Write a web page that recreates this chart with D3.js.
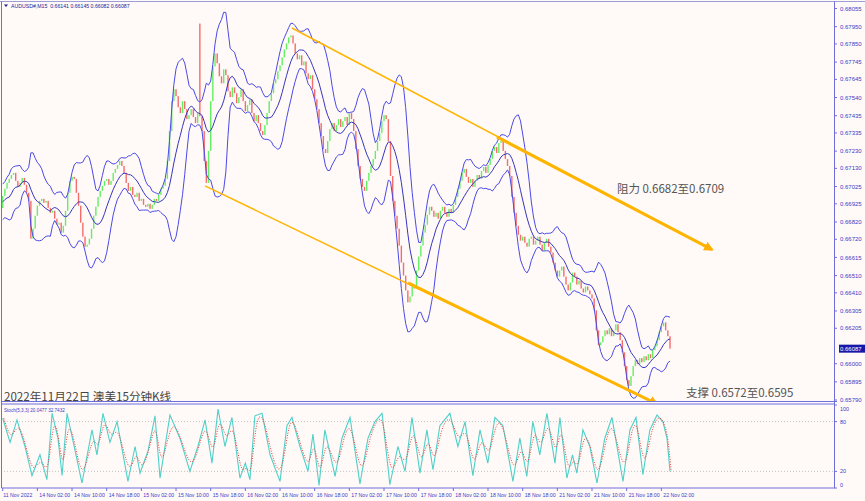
<!DOCTYPE html>
<html><head><meta charset="utf-8">
<script src="https://cdn.jsdelivr.net/npm/d3@7"></script>
<style>
html,body{margin:0;padding:0;background:#fffaf8;}
svg{display:block;}
</style></head><body>
<svg id="c" width="865" height="501"></svg>
<script>
// ---------------- DATA ----------------
const symbolLabel = "AUDUSD#,M15";
const lastQuote = ["0.66141", "0.66145", "0.66082", "0.66087"];
// closes of 30-minute steps
const warmupCloses = [0.66880,0.66950,0.67020,0.66900,0.66850,0.66930,0.67000,0.66960,0.66900];
const closes = [
0.66971,0.67012,0.67046,0.67069,0.67092,0.67104,0.67058,0.67023,0.67046,0.67075,
0.67035,0.66989,0.66942,0.66723,0.66781,0.66856,0.66914,0.66942,0.66954,0.66931,
0.66942,0.66902,0.66873,0.66885,0.66839,0.66804,0.66816,0.66758,0.66798,0.66885,
0.66989,0.67058,0.67081,0.67069,0.66989,0.66914,0.66816,0.66735,0.66677,0.66689,
0.66723,0.66781,0.66856,0.66908,0.66965,0.67000,0.67029,0.67058,0.67069,0.67035,
0.67058,0.67104,0.67127,0.67150,0.67173,0.67144,0.67104,0.67046,0.67000,0.67023,
0.66977,0.66965,0.66989,0.66942,0.66954,0.66919,0.66908,0.66925,0.66896,0.66919,
0.66954,0.66942,0.66977,0.67012,0.67029,0.67069,0.67173,0.67346,0.67519,0.67588,
0.67548,0.67484,0.67450,0.67519,0.67473,0.67415,0.67438,0.67473,0.67427,0.67392,
0.67450,0.67432,0.67346,0.67173,0.67046,0.67231,0.67519,0.67720,0.67795,0.67738,
0.67663,0.67622,0.67703,0.67669,0.67576,0.67542,0.67599,0.67565,0.67507,0.67542,
0.67588,0.67519,0.67461,0.67496,0.67530,0.67450,0.67403,0.67438,0.67392,0.67346,
0.67323,0.67380,0.67450,0.67519,0.67565,0.67622,0.67646,0.67692,0.67726,0.67772,
0.67818,0.67853,0.67888,0.67899,0.67853,0.67795,0.67761,0.67784,0.67726,0.67749,
0.67680,0.67646,0.67669,0.67588,0.67530,0.67473,0.67392,0.67317,0.67242,0.67219,
0.67288,0.67357,0.67392,0.67346,0.67380,0.67415,0.67369,0.67403,0.67427,0.67380,
0.67450,0.67415,0.67346,0.67242,0.67144,0.67069,0.67023,0.67000,0.67058,0.67104,
0.67144,0.67184,0.67231,0.67288,0.67334,0.67403,0.67438,0.67415,0.67288,0.67086,
0.66942,0.66856,0.66781,0.66683,0.66585,0.66510,0.66424,0.66355,0.66389,0.66453,
0.66435,0.66539,0.66620,0.66683,0.66758,0.66804,0.66862,0.66908,0.66885,0.66850,
0.66873,0.66839,0.66885,0.66908,0.66873,0.66850,0.66896,0.66873,0.66919,0.66965,
0.67012,0.67058,0.67104,0.67127,0.67081,0.67046,0.67069,0.67023,0.67058,0.67092,
0.67069,0.67115,0.67138,0.67104,0.67150,0.67184,0.67231,0.67254,0.67219,0.67277,
0.67288,0.67231,0.67184,0.67144,0.67086,0.66965,0.66873,0.66798,0.66746,0.66712,
0.66735,0.66700,0.66677,0.66723,0.66735,0.66689,0.66712,0.66735,0.66689,0.66654,
0.66700,0.66723,0.66677,0.66643,0.66585,0.66539,0.66504,0.66539,0.66562,0.66504,
0.66458,0.66424,0.66470,0.66527,0.66504,0.66458,0.66481,0.66435,0.66412,0.66447,
0.66424,0.66401,0.66378,0.66309,0.66193,0.66107,0.66124,0.66159,0.66193,0.66170,
0.66205,0.66159,0.66193,0.66228,0.66182,0.66136,0.66066,0.65986,0.65905,0.65871,
0.65928,0.65986,0.66020,0.65997,0.66032,0.66009,0.66043,0.66020,0.66055,0.66032,
0.66078,0.66101,0.66136,0.66182,0.66216,0.66239,0.66193,0.66159,0.66087
];
const spikeHighs = [[91, 0.67968]];
// stochastic %K turning points: [step, value]
const stochK = [
[0,84],[3.4,55],[6.6,82],[10.3,50],[13.5,15],[17.2,40],[20.4,10],[22.8,90],[25.5,60],[27.4,15],
[29.7,90],[33.4,45],[36.6,6],[41.2,70],[43.5,40],[46.3,90],[49.5,55],[52.8,80],[57.8,8],[61.1,50],
[63.4,18],[67.1,45],[70.3,87],[72.6,12],[77.2,88],[81.8,60],[86.4,20],[90.1,50],[93.4,82],[96.6,30],
[99.4,95],[102.6,50],[105.8,85],[109.5,12],[112,30],[114.1,10],[116.4,87],[119.7,90],[123.4,40],[128,8],
[131.2,75],[133.5,85],[137.2,50],[140.9,20],[143.2,65],[146,3],[148.7,70],[153.4,14],[156.6,60],[160.3,85],
[164.9,5],[168.6,60],[171.8,80],[175.1,90],[178.7,4],[182.4,50],[185.7,20],[188.9,85],[192.6,18],[195.8,70],
[198.6,22],[201.8,75],[206.4,90],[210.1,50],[213.4,80],[217,15],[220.3,70],[223.9,30],[227.2,85],[230.9,75],
[235.5,8],[238.7,60],[241.9,14],[244.7,80],[247.9,40],[251.2,90],[254.9,30],[257.2,85],[260.4,12],[263,40],
[265,18],[267.8,70],[271,50],[274.3,6],[277.9,60],[281.2,85],[286.3,8],[289.5,70],[292.3,85],[295.5,16],
[298.7,70],[302,88],[304.7,80],[306.6,60],[308,20]
];
const priceTicks = [0.68055,0.67950,0.67850,0.67745,0.67645,0.67540,0.67435,0.67335,0.67230,0.67130,
  0.67025,0.66925,0.66820,0.66720,0.66615,0.66510,0.66410,0.66305,0.66205,0.66000,0.65895,0.65790];
const priceDomain = [0.65790, 0.68055];
const currentPrice = 0.66087;
const timeLabels = ["11 Nov 2022","14 Nov 02:00","14 Nov 10:00","14 Nov 18:00","15 Nov 02:00","15 Nov 10:00",
  "15 Nov 18:00","16 Nov 02:00","16 Nov 10:00","16 Nov 18:00","17 Nov 02:00","17 Nov 10:00","17 Nov 18:00",
  "18 Nov 02:00","18 Nov 10:00","18 Nov 18:00","21 Nov 02:00","21 Nov 10:00","21 Nov 18:00","22 Nov 02:00"];
const stepsPerLabel = 16;
const stochTicks = [100, 80, 20, 0];
const stochLabel = "Stoch(5,3,3) 20.0477 32.7432";
const channelUpper = [[133.5, 0.67942], [327.4, 0.66660]];
const channelUpperBold = [[228.1, 0.67312], [327.4, 0.66660]];
const channelLower = [[93.4, 0.67029], [302.0, 0.65767]];
const channelLowerBold = [[187.1, 0.66468], [302.0, 0.65767]];
const notes = [
  {text: "阻力 0.6682至0.6709", at: [283.5, 0.66988]},
  {text: "支撑 0.6572至0.6595", at: [315.4, 0.65807]}
];
const chartTitle = "2022年11月22日 澳美15分钟K线";

// ---------------- LAYOUT ----------------
const svg = d3.select("#c");
const P = {left: 1, top: 2, right: 834, mainBottom: 402, subTop: 404, subBottom: 488};
const n = closes.length;
const x = d3.scaleLinear().domain([0, n - 1]).range([2.7, 670]);
const y = d3.scaleLinear().domain(priceDomain).range([400, 8.5]);
const ys = d3.scaleLinear().domain([0, 100]).range([488, 405]);
const axisBlue = "#6f6fdc", labelBlue = "#3a3ac8";

svg.append("rect").attr("width", 865).attr("height", 501).attr("fill", "#fffaf8");

const defs = svg.append("defs");
defs.append("clipPath").attr("id", "cm").append("rect")
  .attr("x", P.left).attr("y", P.top).attr("width", P.right - P.left).attr("height", P.mainBottom - P.top);
defs.append("clipPath").attr("id", "cs").append("rect")
  .attr("x", P.left).attr("y", P.subTop).attr("width", P.right - P.left).attr("height", P.subBottom - P.subTop);
defs.append("marker").attr("id", "arr").attr("viewBox", "0 0 10 10").attr("refX", 8).attr("refY", 5)
  .attr("markerWidth", 3.2).attr("markerHeight", 3.2).attr("orient", "auto")
  .append("path").attr("d", "M0,0 L10,5 L0,10 z").attr("fill", "#ffb000");

// ---------------- INDICATORS ----------------
const all = warmupCloses.concat(closes);
const off = warmupCloses.length;
const bars = all.map((c, k) => {
  const o = k > 0 ? all[k - 1] : c;
  return {o, c, h: Math.max(o, c), l: Math.min(o, c)};
});
spikeHighs.forEach(([i, h]) => { bars[off + i].h = h; });

const BBP = 10, BBK = 2;
const bb = closes.map((c, i) => {
  const w = all.slice(off + i - BBP + 1, off + i + 1);
  const m = d3.mean(w);
  const sd = Math.sqrt(d3.mean(w, v => (v - m) ** 2));
  return {i, m, u: m + BBK * sd, l: m - BBK * sd};
});

// ---------------- MAIN PANEL ----------------
const gm = svg.append("g").attr("clip-path", "url(#cm)");
gm.selectAll("rect.cd").data(closes.map((c, i) => ({i, ...bars[off + i]}))).join("rect")
  .attr("class", "cd")
  .attr("x", d => x(d.i) - 0.7).attr("width", 1.4)
  .attr("y", d => y(d.h)).attr("height", d => Math.max(1, y(d.l) - y(d.h)))
  .attr("fill", d => d.c >= d.o ? "#62f062" : "#f46c6c");

const lineOf = key => d3.line().x(d => x(d.i)).y(d => y(d[key]));
[["u", "#4a4ae6"], ["l", "#4a4ae6"], ["m", "#3636bc"]].forEach(([k, col]) => {
  gm.append("path").datum(bb).attr("d", lineOf(k)).attr("fill", "none")
    .attr("stroke", col).attr("stroke-width", 1);
});

const tl = d3.line().x(d => x(d[0])).y(d => y(d[1]));
gm.append("path").datum(channelUpper).attr("d", tl).attr("stroke", "#ffb400").attr("stroke-width", 1.5).attr("fill", "none");
gm.append("path").datum(channelUpperBold).attr("d", tl).attr("stroke", "#ffb400").attr("stroke-width", 3).attr("fill", "none").attr("marker-end", "url(#arr)");
gm.append("path").datum(channelLower).attr("d", tl).attr("stroke", "#ffb400").attr("stroke-width", 1.5).attr("fill", "none");
gm.append("path").datum(channelLowerBold).attr("d", tl).attr("stroke", "#ffb400").attr("stroke-width", 3).attr("fill", "none").attr("marker-end", "url(#arr)");

notes.forEach(nt => {
  svg.append("text").attr("x", x(nt.at[0])).attr("y", y(nt.at[1]))
    .attr("font-family", "'Noto Sans CJK SC','Noto Sans',sans-serif").attr("font-size", 11.5)
    .attr("fill", "#555").text(nt.text);
});
svg.append("text").attr("x", 4).attr("y", 400.5)
  .attr("font-family", "'Noto Sans CJK SC','Noto Sans',sans-serif").attr("font-size", 11.6)
  .attr("fill", "#444").text(chartTitle);

// header
svg.append("path").attr("d", "M4,4.5 L8,4.5 L6,7 z").attr("fill", "#1c1c90");
svg.append("text").attr("x", 11).attr("y", 7.6).attr("font-family", "'Liberation Sans',Arial,sans-serif")
  .attr("font-size", 5.2).attr("fill", "#22229a").attr("xml:space", "preserve")
  .text(symbolLabel + "  " + lastQuote.join(" "));

// right price axis
const ga = svg.append("g");
priceTicks.forEach(p => {
  ga.append("line").attr("x1", P.right).attr("x2", P.right + 3).attr("y1", y(p)).attr("y2", y(p)).attr("stroke", axisBlue);
  ga.append("text").attr("x", 840).attr("y", y(p)).attr("dy", "0.35em")
    .attr("font-family", "'Liberation Sans',Arial,sans-serif").attr("font-size", 6).attr("fill", labelBlue)
    .text(p.toFixed(5));
});
ga.append("rect").attr("x", 839).attr("y", y(currentPrice) - 4).attr("width", 26).attr("height", 8).attr("fill", "#1818a8");
ga.append("text").attr("x", 840).attr("y", y(currentPrice)).attr("dy", "0.35em")
  .attr("font-family", "'Liberation Sans',Arial,sans-serif").attr("font-size", 6).attr("fill", "#fff")
  .text(currentPrice.toFixed(5));

// ---------------- STOCH PANEL ----------------
const gs = svg.append("g").attr("clip-path", "url(#cs)");
[80, 20].forEach(v => {
  gs.append("line").attr("x1", P.left).attr("x2", P.right).attr("y1", ys(v)).attr("y2", ys(v))
    .attr("stroke", "#c4c4c4").attr("stroke-dasharray", "1,2");
});
const slK = d3.line().x(d => x(d[0])).y(d => ys(d[1]));
const slD = d3.line().x(d => x(d[0])).y(d => ys(d[1])).curve(d3.curveBasis);
gs.append("path").datum(stochK).attr("d", slK).attr("fill", "none").attr("stroke", "#4fd0c8").attr("stroke-width", 1.1);
gs.append("path").datum(stochK).attr("d", slD).attr("transform", "translate(1.2,0)").attr("fill", "none")
  .attr("stroke", "#e8403a").attr("stroke-width", 1).attr("stroke-dasharray", "1,1.5");
svg.append("text").attr("x", 4).attr("y", 411.5).attr("font-family", "'Liberation Sans',Arial,sans-serif")
  .attr("font-size", 4.6).attr("fill", labelBlue).text(stochLabel);
stochTicks.forEach(v => {
  const yy = Math.min(485, Math.max(409, ys(v)));
  ga.append("line").attr("x1", P.right).attr("x2", P.right + 3).attr("y1", ys(v)).attr("y2", ys(v)).attr("stroke", axisBlue);
  ga.append("text").attr("x", 840).attr("y", yy).attr("dy", "0.35em")
    .attr("font-family", "'Liberation Sans',Arial,sans-serif").attr("font-size", 5.5).attr("fill", labelBlue).text(v);
});

// ---------------- FRAMES & TIME AXIS ----------------
const fr = svg.append("g").attr("fill", "none");
fr.append("line").attr("x1", 0).attr("x2", 865).attr("y1", 1.5).attr("y2", 1.5).attr("stroke", "#9d9dd8");
fr.append("line").attr("x1", 1.5).attr("x2", 1.5).attr("y1", 1.5).attr("y2", P.subBottom).attr("stroke", axisBlue);
fr.append("line").attr("x1", P.right + 0.5).attr("x2", P.right + 0.5).attr("y1", 1.5).attr("y2", P.subBottom).attr("stroke", axisBlue);
fr.append("line").attr("x1", 1.5).attr("x2", P.right + 3).attr("y1", P.mainBottom - 0.5).attr("y2", P.mainBottom - 0.5).attr("stroke", axisBlue).attr("stroke-width", 1.2);
fr.append("line").attr("x1", 1.5).attr("x2", P.right).attr("y1", P.subTop).attr("y2", P.subTop).attr("stroke", axisBlue).attr("stroke-width", 1.2);
fr.append("line").attr("x1", 1.5).attr("x2", P.right + 0.5).attr("y1", P.subBottom).attr("y2", P.subBottom).attr("stroke", axisBlue);

timeLabels.forEach((t, k) => {
  const xx = x(k * stepsPerLabel);
  svg.append("line").attr("x1", xx).attr("x2", xx).attr("y1", P.subBottom).attr("y2", P.subBottom + 3).attr("stroke", axisBlue);
  svg.append("text").attr("x", k === 0 ? 3.3 : xx + 2).attr("y", 497)
    .attr("font-family", "'Liberation Sans',Arial,sans-serif").attr("font-size", 5.2).attr("fill", labelBlue).text(t);
});
</script>
</body></html>
